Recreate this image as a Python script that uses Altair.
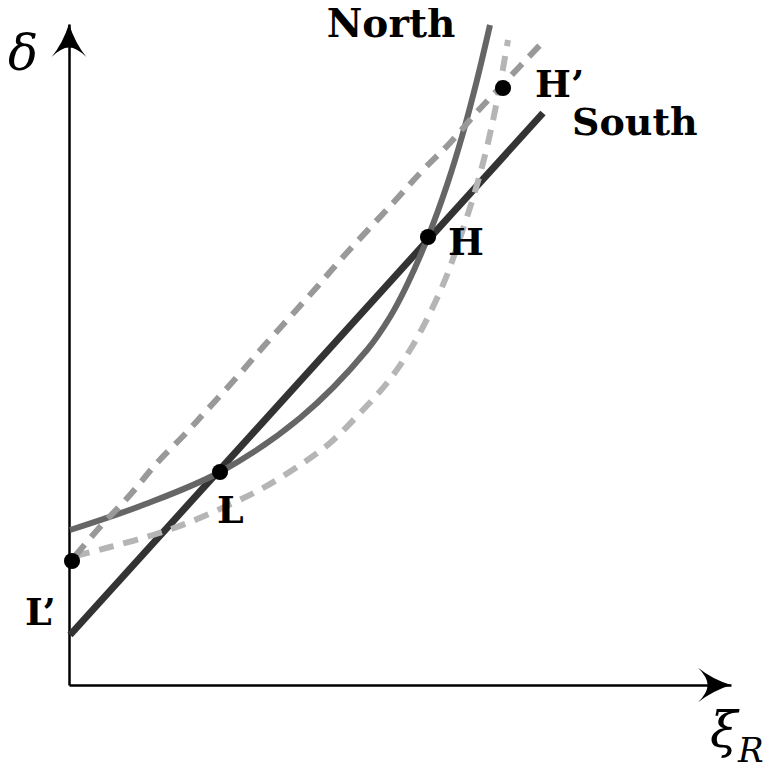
import altair as alt
import pandas as pd

# ---- data (x = xi_R, y = delta, in arbitrary units) ----
south_x = [1, 474]
south_y = [50, 572]

north_x = [1, 74, 151, 231, 298, 321, 338, 359, 378, 394, 408, 421]
north_y = [155, 180, 213, 267, 335, 368, 400, 448, 500, 552, 605, 660]

upper_dash_x = [6, 31, 61, 88, 118, 138, 168, 194, 221, 248, 274, 324, 354, 381, 408, 438, 471]
upper_dash_y = [129, 158, 190, 222, 253, 275, 308, 338, 368, 398, 428, 482, 515, 542, 573, 605, 640]

lower_dash_x = [6, 41, 84, 121, 164, 194, 231, 261, 291, 318, 341, 361, 378, 391, 404, 414, 423, 431, 439]
lower_dash_y = [129, 138, 150, 163, 182, 197, 220, 242, 272, 302, 335, 372, 410, 447, 487, 522, 560, 600, 645]

point_names = ["L’", "L", "H", "H’"]
point_x = [3, 151, 359, 434]
point_y = [124, 213, 448, 597]

label_text = ["North", "South", "H’", "H", "L", "L’"]
label_x = [322, 503, 466, 379, 148, -44]
label_y = [648, 550, 588, 430, 162, 60]
label_align = ["center", "left", "left", "left", "left", "left"]

X_MAX = 662
Y_MAX = 661

xs = alt.Scale(domain=[0, X_MAX], nice=False, zero=False)
ys = alt.Scale(domain=[0, Y_MAX], nice=False, zero=False)

AX = alt.Axis(labels=False, ticks=False, grid=False, title=None,
              domainColor="black", domainWidth=2.5)

def X():
    return alt.X("x:Q", scale=xs, axis=AX)

def Y():
    return alt.Y("y:Q", scale=ys, axis=AX)

def line_df(x, y):
    return pd.DataFrame({"x": x, "y": y, "o": list(range(len(x)))})

def line_layer(df, color, width, dash=None):
    kw = dict(color=color, strokeWidth=width, interpolate="catmull-rom", strokeCap="butt")
    if dash is not None:
        kw["strokeDash"] = dash
    return alt.Chart(df).mark_line(**kw).encode(x=X(), y=Y(), order="o:Q")

south = line_layer(line_df(south_x, south_y), "#333333", 7)
north = line_layer(line_df(north_x, north_y), "#666666", 6)
lower = line_layer(line_df(lower_dash_x, lower_dash_y), "#b5b5b5", 6, dash=[15, 10])
upper = line_layer(line_df(upper_dash_x, upper_dash_y), "#999999", 6, dash=[15, 10])

pts = alt.Chart(pd.DataFrame({"x": point_x, "y": point_y, "n": point_names})).mark_circle(
    size=260, color="black", opacity=1
).encode(x=X(), y=Y())

lab_df = pd.DataFrame({"x": label_x, "y": label_y, "t": label_text, "a": label_align})
labels_left = alt.Chart(lab_df[lab_df.a == "left"]).mark_text(
    font="DejaVu Serif", fontWeight="bold", fontSize=38, baseline="alphabetic", align="left", color="black"
).encode(x=X(), y=Y(), text="t:N")
labels_center = alt.Chart(lab_df[lab_df.a == "center"]).mark_text(
    font="DejaVu Serif", fontWeight="bold", fontSize=39, baseline="alphabetic", align="center", color="black"
).encode(x=X(), y=Y(), text="t:N")

# axis titles
delta = alt.Chart(pd.DataFrame({"x": [-46], "y": [615], "t": ["δ"]})).mark_text(
    font="DejaVu Serif", fontStyle="italic", fontSize=50, baseline="alphabetic", align="center", color="black"
).encode(x=X(), y=Y(), text="t:N")
xi = alt.Chart(pd.DataFrame({"x": [641], "y": [-62], "t": ["ξ"]})).mark_text(
    font="DejaVu Serif", fontStyle="italic", fontSize=50, baseline="alphabetic", align="left", color="black"
).encode(x=X(), y=Y(), text="t:N")
xi_sub = alt.Chart(pd.DataFrame({"x": [669], "y": [-77], "t": ["R"]})).mark_text(
    font="DejaVu Serif", fontStyle="italic", fontSize=34, baseline="alphabetic", align="left", color="black"
).encode(x=X(), y=Y(), text="t:N")

# arrowheads at axis ends
up_arrow = "M0,0 Q0.35,1.1 1,1.9 Q0.45,1.35 0,1.35 Q-0.45,1.35 -1,1.9 Q-0.35,1.1 0,0 Z"
right_arrow = "M0,0 Q-1.1,0.35 -1.9,1 Q-1.35,0.45 -1.35,0 Q-1.35,-0.45 -1.9,-1 Q-1.1,-0.35 0,0 Z"
arr_y = alt.Chart(pd.DataFrame({"x": [0], "y": [Y_MAX]})).mark_point(
    shape=up_arrow, filled=True, size=1200, color="black", opacity=1, strokeWidth=0
).encode(x=X(), y=Y())
arr_x = alt.Chart(pd.DataFrame({"x": [X_MAX], "y": [0]})).mark_point(
    shape=right_arrow, filled=True, size=1200, color="black", opacity=1, strokeWidth=0
).encode(x=X(), y=Y())

chart = alt.layer(
    south, north, lower, upper, pts, labels_left, labels_center, delta, xi, xi_sub, arr_y, arr_x
).properties(
    width=X_MAX, height=Y_MAX,
    autosize=alt.AutoSizeParams(type="none"),
    padding={"left": 61, "top": 16, "right": 40, "bottom": 86},
).configure_view(stroke=None)

chart.save("out.html", embed_options={"renderer": "svg", "actions": False})
